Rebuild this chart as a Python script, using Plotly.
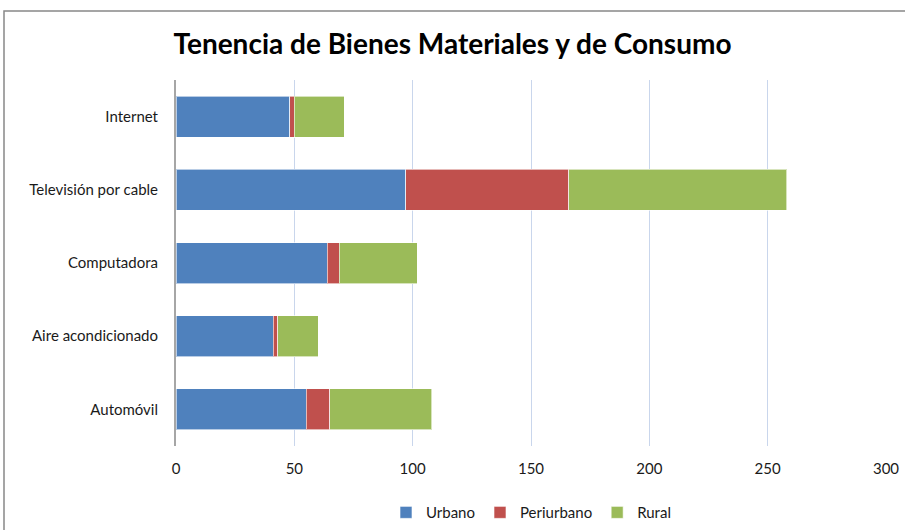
import plotly.graph_objects as go

categorias = ["Automóvil", "Aire acondicionado", "Computadora", "Televisión por cable", "Internet"]
urbano = [55, 41, 64, 97, 48]
periurbano = [10, 2, 5, 69, 2]
rural = [43, 17, 33, 92, 21]

colores = {"Urbano": "#4f81bd", "Periurbano": "#c0504d", "Rural": "#9bbb59"}

fig = go.Figure()
for nombre, valores in [("Urbano", urbano), ("Periurbano", periurbano), ("Rural", rural)]:
    fig.add_trace(go.Bar(
        y=categorias, x=valores, name=nombre, orientation="h",
        marker=dict(color=colores[nombre], line=dict(color="rgba(255,255,255,0.6)", width=1)),
    ))

fig.update_layout(
    barmode="stack",
    bargap=0.44,
    width=905, height=530,
    margin=dict(l=176, r=19, t=80, b=84, autoexpand=False),
    paper_bgcolor="white", plot_bgcolor="white",
    font=dict(family="Lato, Open Sans, sans-serif", size=15, color="#1a1a1a"),
    title=dict(text="<b>Tenencia de Bienes Materiales y de Consumo</b>",
               x=0.5, xanchor="center", y=0.917, yanchor="middle",
               font=dict(size=28, color="black")),
    legend=dict(orientation="h", x=0.5, xanchor="center", y=-0.182, yanchor="middle",
                font=dict(size=15), traceorder="normal"),
    xaxis=dict(range=[0, 300], dtick=50, showgrid=True, gridcolor="#c9d6ec", gridwidth=1,
               zeroline=False, showline=False, ticks="", ticklabelstandoff=12),
    yaxis=dict(showline=True, linecolor="#a6a6a6", linewidth=2, ticks="",
               ticklabelstandoff=13, categoryorder="array", categoryarray=categorias),
)

# marco exterior del gráfico
fig.add_shape(type="rect", xref="paper", yref="paper",
              x0=-172 / 710, x1=1 + 30 / 710, y0=-1.5, y1=1 + 69 / 366,
              line=dict(color="#888888", width=1.5), fillcolor="rgba(0,0,0,0)")

fig.write_html(
    "out.html",
    config={"displayModeBar": False},
    post_script="document.body.style.margin='0';document.body.style.overflow='hidden';"
                "document.documentElement.style.overflow='hidden';",
)
